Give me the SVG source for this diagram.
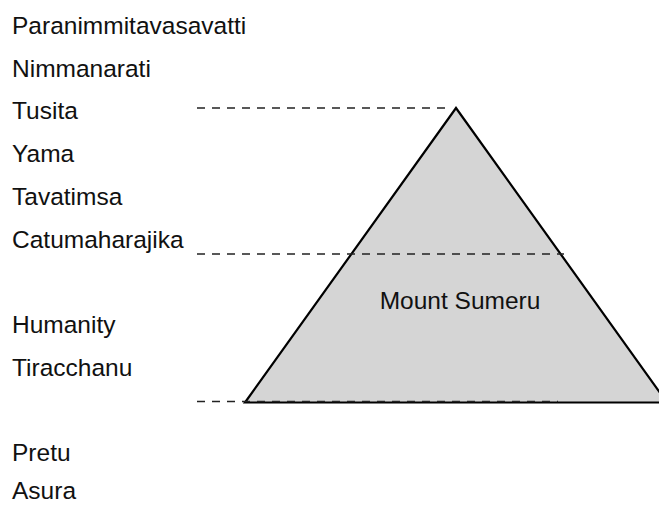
<svg xmlns="http://www.w3.org/2000/svg" width="659" height="505" viewBox="0 0 659 505">
  <style>
    .label { font-family: "Liberation Sans", Arial, sans-serif; font-size: 24.5px; fill: #111; }
    .level { fill: none; stroke: #222; stroke-width: 1.4; stroke-dasharray: 8 7; }
    .mount { fill: #d5d5d5; stroke: #000; stroke-width: 2.2; stroke-linejoin: miter; }
  </style>
  <rect width="659" height="505" fill="#fff"/>

  <!-- Mount Sumeru -->
  <g id="mount-sumeru">
    <polygon class="mount" points="456,108 245,402.5 667,402.5"/>
    <text class="label" x="460" y="309" text-anchor="middle">Mount Sumeru</text>
  </g>

  <!-- realm boundary markers -->
  <g id="levels">
    <line class="level" x1="197" y1="108" x2="452" y2="108"/>
    <line class="level" x1="197" y1="254" x2="564" y2="254"/>
    <line class="level" x1="197" y1="401.5" x2="558" y2="401.5"/>
  </g>

  <!-- realm names -->
  <g id="realms">
    <text class="label" x="12" y="33.5">Paranimmitavasavatti</text>
    <text class="label" x="12" y="76.5">Nimmanarati</text>
    <text class="label" x="12" y="119">Tusita</text>
    <text class="label" x="12" y="162">Yama</text>
    <text class="label" x="12" y="204.5">Tavatimsa</text>
    <text class="label" x="12" y="247.5">Catumaharajika</text>
    <text class="label" x="12" y="333">Humanity</text>
    <text class="label" x="12" y="375.5">Tiracchanu</text>
    <text class="label" x="12" y="461">Pretu</text>
    <text class="label" x="12" y="499">Asura</text>
  </g>
</svg>
